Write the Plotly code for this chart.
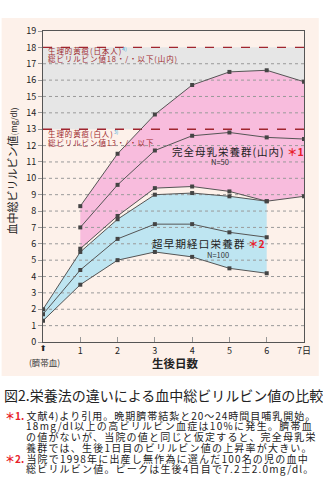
import plotly.graph_objects as go

# ---- data ----
days_milk = [1, 2, 3, 4, 5, 6, 7]
milk_high = [8.3, 11.5, 13.9, 15.7, 16.5, 16.6, 15.9]
milk_mid = [7.0, 9.6, 11.7, 12.6, 12.8, 12.5, 12.4]
milk_low = [5.7, 7.7, 9.4, 9.5, 9.2, 8.6, 8.9]

days_early = [0, 1, 2, 3, 4, 5, 6]
early_high = [2.0, 5.5, 7.5, 9.0, 9.1, 8.9, 8.6]
early_mid = [1.7, 4.4, 6.3, 7.2, 7.2, 6.7, 6.4]
early_low = [1.3, 3.5, 5.0, 5.5, 5.2, 4.5, 4.2]

x_ticks = [1, 2, 3, 4, 5, 6, 7]
x_ticktext = ["1", "2", "3", "4", "5", "6", "7日"]
y_ticks = list(range(0, 20))
jp_limit = 18
white_limit = 13

FONT = "Noto Sans CJK JP"
LINE = "#555555"
RED_LINE = "#A0252F"
RED_TXT = "#9E2A2F"
BLUE_SUP = "#44A8DC"

# plot geometry (pixels)
L, R, T, B = 43, 15, 31, 152
W, H = 323, 494
PW, PH = W - L - R, H - T - B


def px(x):
    return (x - L) / PW


def py(y):
    return (H - B - y) / PH


def ls(text, sp):
    return "<span style='letter-spacing:%spx'>%s</span>" % (sp, text)


fig = go.Figure()

# filled ranges
fig.add_trace(go.Scatter(
    x=days_milk + days_milk[::-1], y=milk_high + milk_low[::-1],
    fill="toself", fillcolor="#F8BCDD", line=dict(width=0), mode="lines",
    hoverinfo="skip", showlegend=False))
fig.add_trace(go.Scatter(
    x=days_early + days_early[::-1], y=early_high + early_low[::-1],
    fill="toself", fillcolor="#BEE5F1", line=dict(width=0), mode="lines",
    hoverinfo="skip", showlegend=False))

# dotted gridlines (drawn above the fills)
gx, gy = [], []
for v in y_ticks:
    if v in (0, 19, jp_limit, white_limit):
        continue
    gx += [0, 7, None]
    gy += [v, v, None]
fig.add_trace(go.Scatter(x=gx, y=gy, mode="lines",
                         line=dict(color="#9A9A9A", width=1, dash="dot"),
                         hoverinfo="skip", showlegend=False))

# threshold dashed lines
for v in (jp_limit, white_limit):
    fig.add_trace(go.Scatter(x=[0, 7], y=[v, v], mode="lines",
                             line=dict(color=RED_LINE, width=1.4, dash="dash"),
                             hoverinfo="skip", showlegend=False))

# series lines
for xs, ys in [(days_milk, milk_high), (days_milk, milk_mid), (days_milk, milk_low),
               (days_early, early_high), (days_early, early_mid), (days_early, early_low)]:
    fig.add_trace(go.Scatter(x=xs, y=ys, mode="lines+markers",
                             line=dict(color=LINE, width=1),
                             marker=dict(symbol="square", size=4, color="#444444"),
                             hoverinfo="skip", showlegend=False))

shapes = [
    # peach panel
    dict(type="rect", xref="paper", yref="paper", x0=px(1), x1=px(323),
         y0=py(376), y1=py(18), fillcolor="#FDF1EA", line=dict(width=0), layer="below"),
    # gray band between thresholds
    dict(type="rect", xref="x", yref="y", x0=0, x1=7, y0=white_limit, y1=jp_limit,
         fillcolor="#E6E6E6", line=dict(width=0), layer="below"),
]

ann = []


def add_text(text, x, y, size, color="#222222", xanchor="left", **kw):
    ann.append(dict(text=text, x=px(x), y=py(y), xref="paper", yref="paper",
                    xanchor=xanchor, yanchor="middle", showarrow=False,
                    font=dict(family=FONT, size=size, color=color), **kw))


# threshold labels
add_text(ls("生理的黄疸(日本人)", 0.9) + "<sup><span style='color:%s'>4)</span></sup>" % BLUE_SUP,
         46, 50.5, 7.5, RED_TXT)
add_text(ls("総ビリルビン値18・/・以下(山内)", 0.9), 46, 58.5, 7.5, RED_TXT)
add_text(ls("生理的黄疸(白人)", 0.9) + "<sup><span style='color:%s'>3)</span></sup>" % BLUE_SUP,
         46, 133.5, 7.5, RED_TXT)
add_text(ls("総ビリルビン値13・/・以下", 0.9), 46, 142.5, 7.5, RED_TXT)

# group labels
add_text(ls("完全母乳栄養群(山内)", 1.0) + " <span style='color:#E8202A'><b>＊1</b></span>",
         172, 151, 10.5)
add_text("N=50", 223, 161, 7.5, "#333333", xanchor="center")
add_text(ls("超早期経口栄養群", 1.2) + " <span style='color:#E8202A'><b>＊2</b></span>",
         152, 243, 10.5)
add_text("N=100", 221, 254.5, 7.5, "#333333", xanchor="center")

# axis extras
add_text("<b>⬆</b>", 43, 348.5, 8, "#222222", xanchor="center")
ann[-1]["font"]["family"] = "DejaVu Sans"
add_text("(臍帯血)", 45, 362, 8.5, "#333333", xanchor="center")
add_text("<b>生後日数</b>", 178, 363, 11.5, "#222222", xanchor="center")
ann.append(dict(text="血中総ビリルビン値<span style='font-size:8px'>(mg/dl)</span>",
                x=px(12), y=py(171), xref="paper", yref="paper", textangle=-90,
                xanchor="center", yanchor="middle", showarrow=False,
                font=dict(family=FONT, size=11, color="#222222")))

# caption
add_text("図2.栄養法の違いによる血中総ビリルビン値の比較", 1, 395, 14, "#222222")
notes = [
    (415, "<span style='color:#E8202A'><b>＊1.</b></span> " + ls("文献4)より引用。晩期臍帯結紮と20～24時間目哺乳開始。", 1.0), 2),
    (425.7, ls("18mg/dl以上の高ビリルビン血症は10%に発生。臍帯血", 1.3), 24),
    (436.5, ls("の値がないが、当院の値と同じと仮定すると、完全母乳栄", 1.2), 24),
    (447.2, ls("養群では、生後1日目のビリルビン値の上昇率が大きい。", 1.2), 24),
    (458, "<span style='color:#E8202A'><b>＊2.</b></span> " + ls("当院で1998年に出産し無作為に選んだ100名の児の血中", 1.2), 2),
    (468.7, ls("総ビリルビン値。ピークは生後4日目で7.2±2.0mg/dl。", 1.2), 24),
]
for yy, t, xx in notes:
    add_text(t, xx, yy, 10, "#222222")

fig.update_layout(
    width=W, height=H,
    margin=dict(l=L, r=R, t=T, b=B),
    paper_bgcolor="white", plot_bgcolor="white",
    shapes=shapes, annotations=ann,
    xaxis=dict(range=[0, 7], tickvals=x_ticks, ticktext=x_ticktext,
               showgrid=False, zeroline=False, showline=True, linecolor="#555555",
               linewidth=1, mirror=True, ticks="inside", ticklen=5, tickcolor="#999999",
               tickfont=dict(family=FONT, size=9, color="#222222")),
    yaxis=dict(range=[0, 19], tickvals=y_ticks, showgrid=False, zeroline=False,
               showline=True, linecolor="#555555", linewidth=1, mirror=True,
               ticks="outside", ticklen=4, tickcolor="#999999",
               tickfont=dict(family=FONT, size=9, color="#222222")),
    font=dict(family=FONT),
)

fig.write_html("out.html")
